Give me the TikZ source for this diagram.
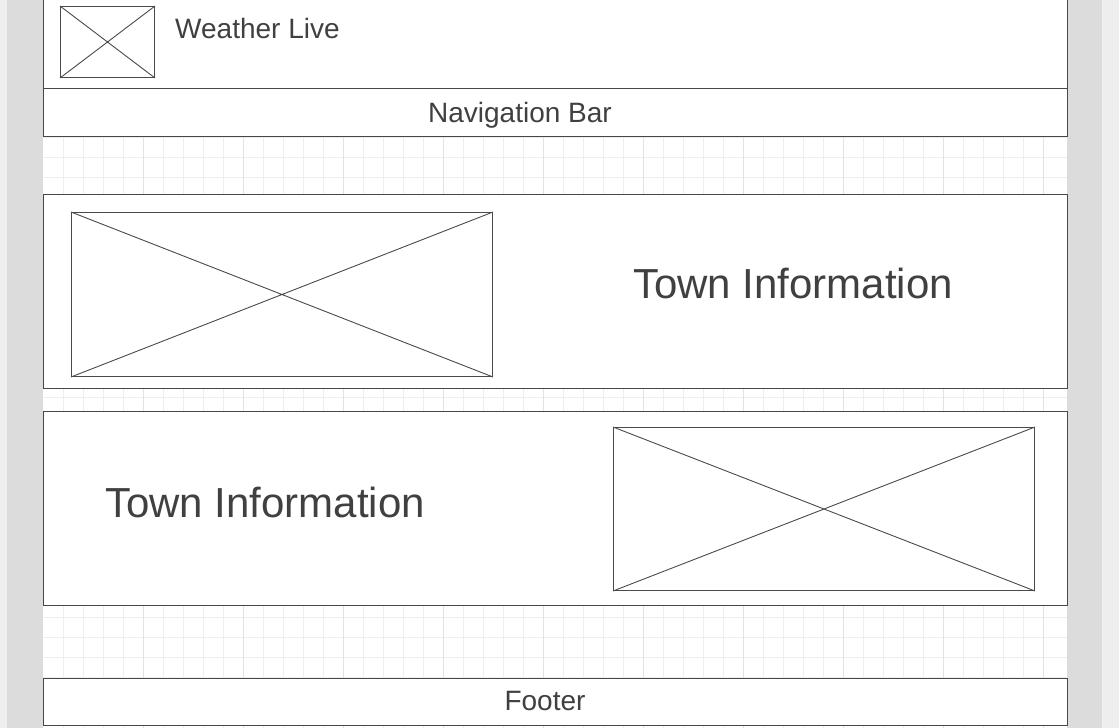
\documentclass[tikz,border=0pt]{standalone}
\usepackage{fontspec}
\setmainfont{Liberation Sans}
\definecolor{txtc}{HTML}{404040}
\definecolor{boxc}{HTML}{474747}
\definecolor{imgc}{HTML}{4A4A4A}
\definecolor{outerc}{HTML}{EEEEEE}
\definecolor{bandc}{HTML}{DCDCDC}
\definecolor{gridminor}{HTML}{EEEEEE}
\definecolor{gridmajor}{HTML}{E2E2E2}
\begin{document}
\begin{tikzpicture}[x=1pt,y=-1pt,
  box/.style={draw=boxc, line width=1.1pt, fill=white, rectangle, inner sep=0pt, anchor=north west},
  img/.style={draw=imgc, line width=1pt, rectangle, inner sep=0pt, anchor=north west},
  imgline/.style={draw=imgc, line width=0.9pt},
  lbl/.style={text=txtc, inner sep=0pt},
  small/.style={lbl, font=\fontsize{28}{32}\selectfont},
  big/.style={lbl, font=\fontsize{42}{46}\selectfont}]
\useasboundingbox (0,0) rectangle (1119,728);
\clip (0,0) rectangle (1119,728);
% background bands
\fill[outerc] (0,0) rectangle (1119,728);
\fill[bandc] (7,0) rectangle (1102,728);
\fill[white] (43,0) rectangle (1067,728);
% grid
\foreach \x in {63,83,...,1047} {\draw[gridminor, line width=0.5pt] (\x,0) -- (\x,728);}
\foreach \y in {17,37,...,727} {\draw[gridminor, line width=0.5pt] (43,\y) -- (1067,\y);}
\foreach \x in {143,243,...,1043} {\draw[gridmajor, line width=0.6pt] (\x,0) -- (\x,728);}
% header
\node[box, minimum width=1024pt, minimum height=92pt] (header) at (43,-4) {};
\node[img, minimum width=94pt, minimum height=71pt] (logo) at (60,6) {};
\draw[imgline] (logo.north west) -- (logo.south east) (logo.north east) -- (logo.south west);
\node[small, anchor=base west] (title) at (175,38) {Weather Live};
% navigation
\node[box, minimum width=1024pt, minimum height=48pt] (nav) at (43,88) {};
\node[small, anchor=base] (navtext) at (520,122) {Navigation Bar};
% section 1
\node[box, minimum width=1024pt, minimum height=194pt] (sec1) at (43,194) {};
\node[img, minimum width=421pt, minimum height=164pt] (img1) at (71,212) {};
\draw[imgline] (img1.north west) -- (img1.south east) (img1.north east) -- (img1.south west);
\node[big, anchor=base] (town1) at (793,298) {Town Information};
% section 2
\node[box, minimum width=1024pt, minimum height=194pt] (sec2) at (43,411) {};
\node[img, minimum width=421pt, minimum height=163pt] (img2) at (613,427) {};
\draw[imgline] (img2.north west) -- (img2.south east) (img2.north east) -- (img2.south west);
\node[big, anchor=base] (town2) at (265,517) {Town Information};
% footer
\node[box, minimum width=1024pt, minimum height=47pt] (footer) at (43,678) {};
\node[small, anchor=base] (foottext) at (545,710) {Footer};
\end{tikzpicture}
\end{document}
